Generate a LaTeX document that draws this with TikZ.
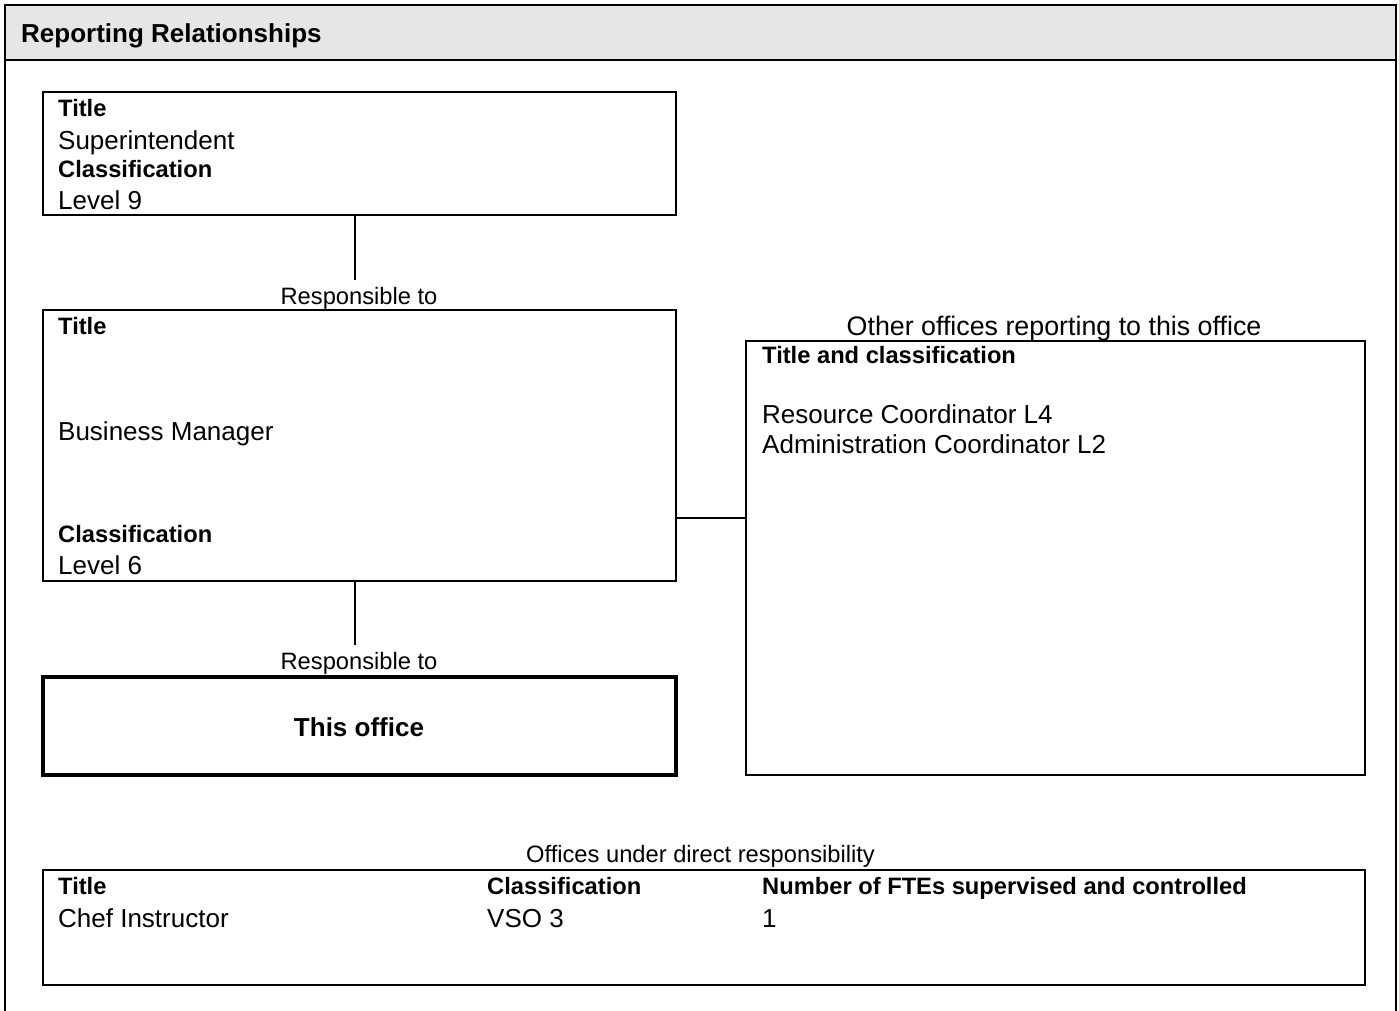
\documentclass[tikz,border=0pt]{standalone}
\usepackage{fontspec}
\setmainfont{Liberation Sans}
\definecolor{hdrgray}{RGB}{230,230,230}
\begin{document}
\begin{tikzpicture}[x=1pt,y=-1pt,
  frame/.style={line width=2pt},
  box/.style={draw, line width=2pt, inner sep=0pt, outer sep=0pt, anchor=north west},
  thickbox/.style={draw, line width=3.5pt, inner sep=0pt, outer sep=0pt, anchor=north west},
  conn/.style={line width=1.6pt},
  body/.style={anchor=base west, inner sep=0pt, font=\fontsize{26}{30}\selectfont},
  lbl/.style={anchor=base west, inner sep=0pt, font=\fontsize{23.7}{27}\selectfont\bfseries},
  caplbl/.style={anchor=base, inner sep=0pt, font=\fontsize{23.7}{27}\selectfont},
  bigcaplbl/.style={anchor=base, inner sep=0pt, font=\fontsize{26.8}{30}\selectfont}]
\useasboundingbox (0,0) rectangle (1399,1011);
% outer frame and header
\fill[hdrgray] (5,5) rectangle (1396,60);
\draw[frame] (5,1015) -- (5,5) -- (1396,5) -- (1396,1015);
\draw[frame] (5,60) -- (1396,60);
\node[anchor=base west, inner sep=0pt, font=\fontsize{26}{30}\selectfont\bfseries] (hdr) at (21,42.5) {Reporting Relationships};
% box 1
\node[box, minimum width=633pt, minimum height=123pt] (b1) at (43,92) {};
\node[lbl] (b1t) at (58,116.5) {Title};
\node[body] (b1n) at (58,150) {Superintendent};
\node[lbl] (b1c) at (58,178) {Classification};
\node[body] (b1l) at (58,209.5) {Level 9};
% label 1
\node[caplbl] (r1) at (359,304) {Responsible to};
% box 2
\node[box, minimum width=633pt, minimum height=271pt] (b2) at (43,310) {};
\node[lbl] (b2t) at (58,334) {Title};
\node[body] (b2n) at (58,440) {Business Manager};
\node[lbl] (b2c) at (58,542.5) {Classification};
\node[body] (b2l) at (58,574.5) {Level 6};
% label 2
\node[caplbl] (r2) at (359,669.5) {Responsible to};
% box 4
\node[thickbox, minimum width=633pt, minimum height=98pt] (b4) at (43,677) {};
\node[anchor=base, inner sep=0pt, font=\fontsize{26}{30}\selectfont\bfseries] (b4t) at (359,736.5) {This office};
% box 3
\node[bigcaplbl] (oth) at (1054,335) {Other offices reporting to this office};
\node[box, minimum width=619pt, minimum height=434pt] (b3) at (746,341) {};
\node[lbl] (b3t) at (762,363) {Title and classification};
\node[body] (b3a) at (762,423) {Resource Coordinator L4};
\node[body] (b3b) at (762,453) {Administration Coordinator L2};
% box 5
\node[caplbl] (dir) at (700.5,862.5) {Offices under direct responsibility};
\node[box, minimum width=1322pt, minimum height=115pt] (b5) at (43,870) {};
\node[lbl] (c1h) at (58,894.5) {Title};
\node[lbl] (c2h) at (487,894.5) {Classification};
\node[lbl] (c3h) at (762,894.5) {Number of FTEs supervised and controlled};
\node[body] (c1v) at (58,927) {Chef Instructor};
\node[body] (c2v) at (487,927) {VSO 3};
\node[body] (c3v) at (762,927) {1};
% connectors
\coordinate (e1) at (355,280);
\coordinate (e2) at (355,645);
\draw[conn] (b1.south -| e1) -- (e1);
\draw[conn] (b2.south -| e2) -- (e2);
\coordinate (m2) at (676,518);
\draw[conn] (b2.east |- m2) -- (b3.west |- m2);
\end{tikzpicture}
\end{document}
